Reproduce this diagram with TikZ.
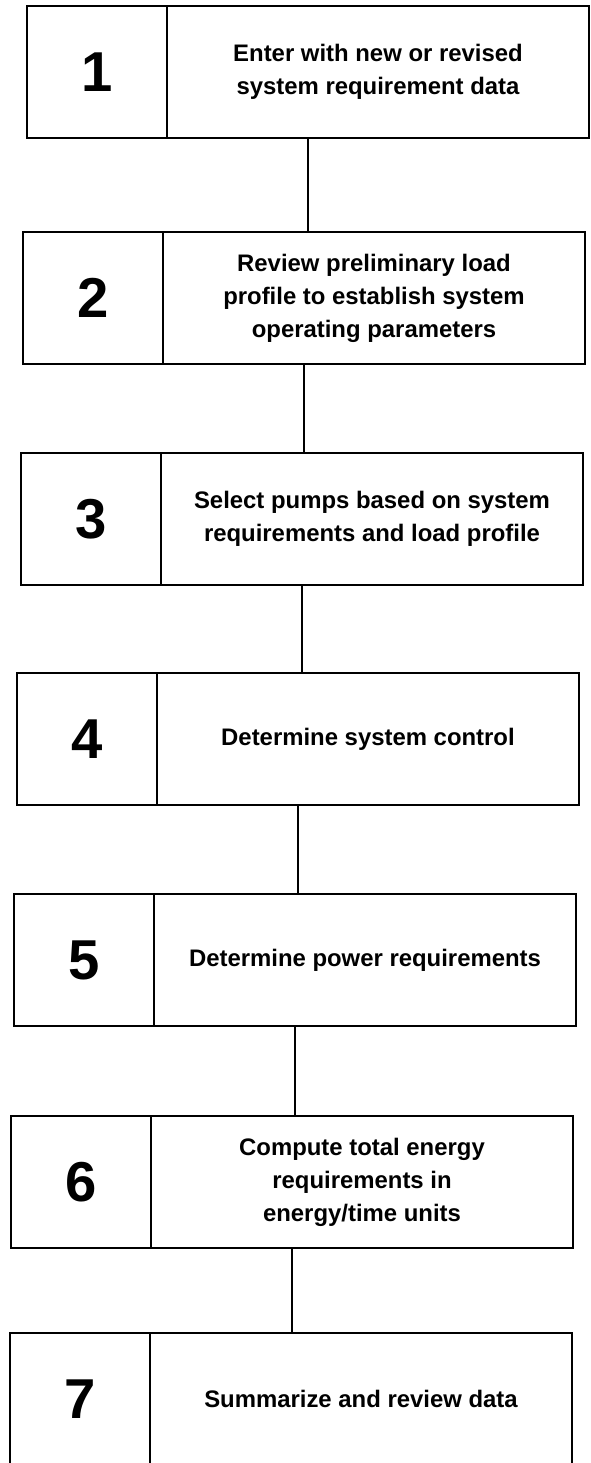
\documentclass[tikz,border=0pt]{standalone}
\usepackage{fontspec}
\setsansfont{Liberation Sans}
\usetikzlibrary{positioning, calc}
\tikzset{
  every picture/.style={font=\sffamily, line width=1.2pt},
  numbox/.style={draw, anchor=north west, outer sep=0pt, minimum width=3.5cm, minimum height=3.3cm, font=\sffamily\bfseries\fontsize{40}{40}\selectfont},
  stepbox/.style={draw, outer sep=0pt, align=center, minimum width=10.55cm, minimum height=3.3cm, font=\sffamily\bfseries\fontsize{17}{23.5}\selectfont},
  link/.style={draw, line width=1.2pt},
}

\begin{document}
\begin{tikzpicture}[x=1cm, y=1cm]
  \useasboundingbox (0,0) rectangle (14.75,-36.575);
  % step 1
  \node[numbox] (n1) at (0.675,-0.15) {1};
  \node[stepbox, right=0pt of n1] (s1) {Enter with new or revised\\system requirement data};
  % step 2
  \node[numbox] (n2) at (0.575,-5.8) {2};
  \node[stepbox, right=0pt of n2] (s2) {Review preliminary load\\profile to establish system\\operating parameters};
  % step 3
  \node[numbox] (n3) at (0.525,-11.325) {3};
  \node[stepbox, right=0pt of n3] (s3) {Select pumps based on system\\requirements and load profile};
  % step 4
  \node[numbox] (n4) at (0.425,-16.825) {4};
  \node[stepbox, right=0pt of n4] (s4) {Determine system control};
  % step 5
  \node[numbox] (n5) at (0.35,-22.35) {5};
  \node[stepbox, right=0pt of n5] (s5) {Determine power requirements};
  % step 6
  \node[numbox] (n6) at (0.275,-27.9) {6};
  \node[stepbox, right=0pt of n6] (s6) {Compute total energy\\requirements in\\energy/time units};
  % step 7
  \node[numbox] (n7) at (0.25,-33.325) {7};
  \node[stepbox, right=0pt of n7] (s7) {Summarize and review data};
  % connectors, from the middle of each bottom edge
  \coordinate (c1) at ($(n1.south west)!0.5!(s1.south east)$);
  \coordinate (c2) at ($(n2.south west)!0.5!(s2.south east)$);
  \coordinate (c3) at ($(n3.south west)!0.5!(s3.south east)$);
  \coordinate (c4) at ($(n4.south west)!0.5!(s4.south east)$);
  \coordinate (c5) at ($(n5.south west)!0.5!(s5.south east)$);
  \coordinate (c6) at ($(n6.south west)!0.5!(s6.south east)$);
  \draw[link] (c1) -- (c1 |- n2.north);
  \draw[link] (c2) -- (c2 |- n3.north);
  \draw[link] (c3) -- (c3 |- n4.north);
  \draw[link] (c4) -- (c4 |- n5.north);
  \draw[link] (c5) -- (c5 |- n6.north);
  \draw[link] (c6) -- (c6 |- n7.north);
\end{tikzpicture}
\end{document}
